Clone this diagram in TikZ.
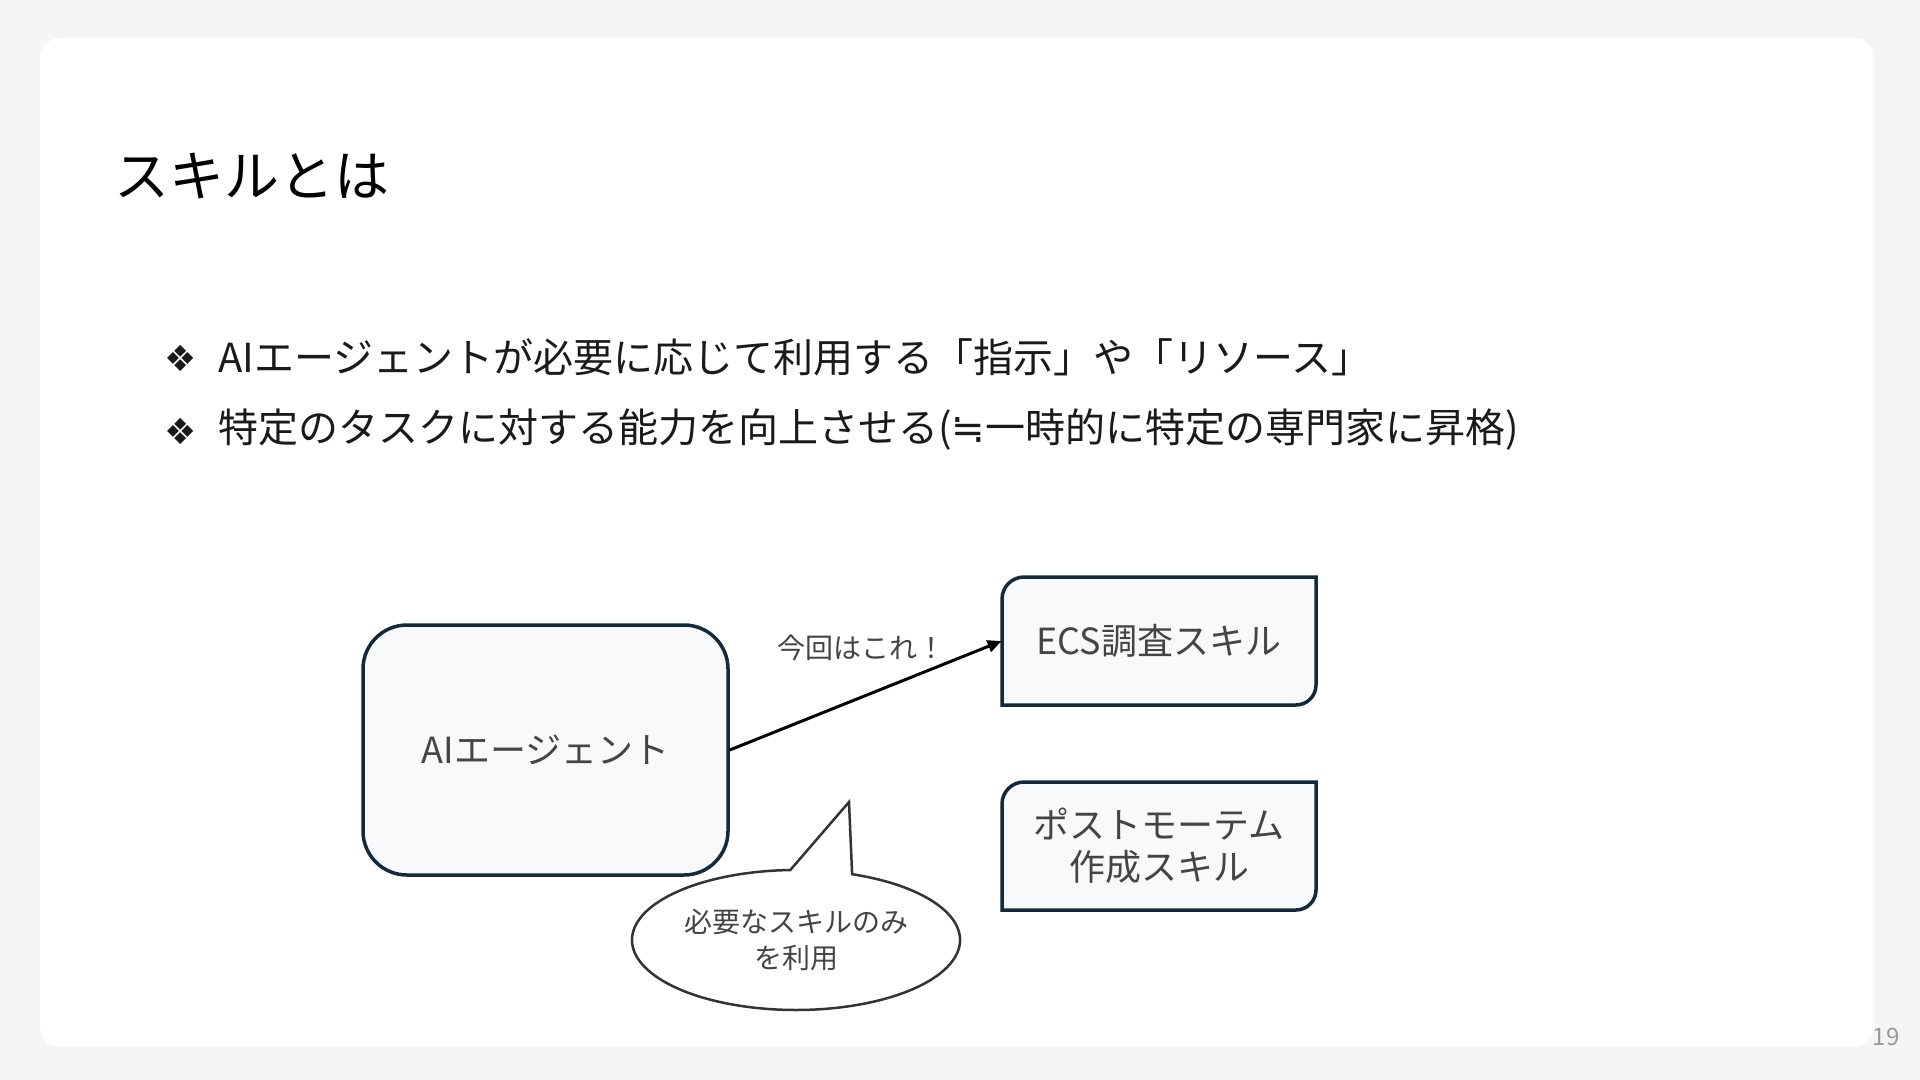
\documentclass[tikz,border=0pt]{standalone}
\usepackage{fontspec}
\setmainfont{Noto Sans CJK JP}
\newfontfamily\dejavu{DejaVu Sans}
\usetikzlibrary{arrows.meta}
\definecolor{pagebg}{HTML}{F5F5F5}
\definecolor{boxfill}{HTML}{F8F9FA}
\definecolor{boxline}{HTML}{14293A}
\definecolor{txtgray}{HTML}{444444}
\definecolor{bubline}{HTML}{333333}
\definecolor{textdark}{HTML}{1A1A1A}
\definecolor{pagenum}{HTML}{999999}
\begin{document}
\begin{tikzpicture}[x=0.5pt,y=-0.5pt,
  boxtxt/.style={text=txtgray, font=\fontsize{18}{21}\selectfont, align=center},
  agentbox/.style={boxtxt, draw=boxline, fill=boxfill, line width=1.75pt, rounded corners=22pt, minimum width=182.5pt, minimum height=125pt},
  skilltxt/.style={boxtxt, minimum width=157pt, minimum height=64pt},
  skillline/.style={draw=boxline, fill=boxfill, line width=1.75pt},
  bullettxt/.style={anchor=west, inner sep=0pt, text=textdark, font=\fontsize{20}{24}\selectfont},
  bulletmark/.style={inner sep=0pt, text=textdark, font=\dejavu\fontsize{18}{20}\selectfont},
  arr/.style={line width=1.5pt, -{Triangle[length=7pt,width=6pt]}},
  smalltxt/.style={text=txtgray, font=\fontsize{14}{18}\selectfont, align=center},
  bubble/.style={draw=bubline, fill=white, line width=1.25pt, line join=miter}
]
\useasboundingbox (0,0) rectangle (1920,1080);
\fill[pagebg] (0,0) rectangle (1920,1080);
\fill[white, rounded corners=10pt] (40,38) rectangle (1874,1047);

% title
\node[anchor=west, inner sep=0pt, text=black, font=\fontsize{27.5}{32}\selectfont] (title) at (114,176) {スキルとは};

% bullets
\node[bulletmark] (b1) at (181,358) {❖};
\node[bullettxt] (t1) at (218,357) {AIエージェントが必要に応じて利用する「指示」や「リソース」};
\node[bulletmark] (b2) at (181,431) {❖};
\node[bullettxt] (t2) at (218,430) {特定のタスクに対する能力を向上させる({\dejavu ≒}一時的に特定の専門家に昇格)};

% agent box
\node[agentbox] (agent) at (545.5,750) {AIエージェント};

% skill boxes outlines
\path[skillline] (1002,705) -- (1002,599) .. controls (1002,586.9) and (1011.9,577) .. (1024,577)
  -- (1316,577) -- (1316,685) .. controls (1316,696) and (1307,705) .. (1296,705) -- cycle;
\path[skillline] (1002,910) -- (1002,804) .. controls (1002,791.9) and (1011.9,782) .. (1024,782)
  -- (1316,782) -- (1316,890) .. controls (1316,901) and (1307,910) .. (1296,910) -- cycle;
\node[skilltxt] (ecs) at (1159,641) {ECS調査スキル};
\node[skilltxt] (pm) at (1159,846) {ポストモーテム\\作成スキル};

% arrow
\draw[arr] (agent.east) -- (ecs.west);
\node[smalltxt] (lbl) at (861,648) {今回はこれ！};

% speech bubble
\path[bubble] (852.1,874.2) arc[start angle=-70, end angle=268, x radius=164, y radius=70] -- (849,802) -- cycle;
\node[smalltxt] (bub) at (796,940) {必要なスキルのみ\\を利用};

% page number
\node[text=pagenum, font=\fontsize{12}{14}\selectfont] (pg) at (1886,1037) {19};
\end{tikzpicture}
\end{document}
